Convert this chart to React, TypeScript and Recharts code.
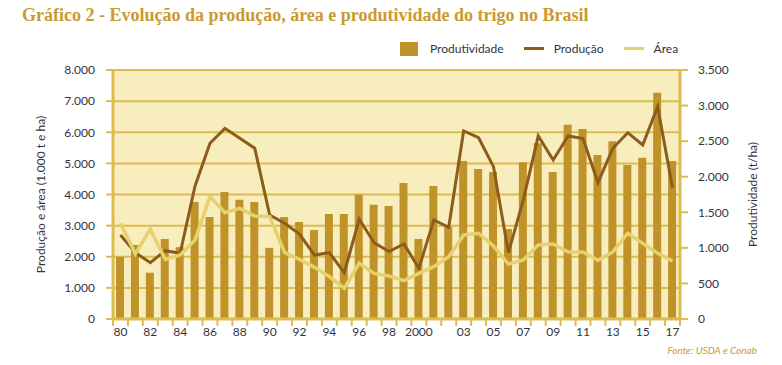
import React from "react";
import {
  ComposedChart,
  Bar,
  Line,
  XAxis,
  YAxis,
  CartesianGrid,
  Legend,
} from "recharts";

const years = [
  "1980", "1981", "1982", "1983", "1984", "1985", "1986", "1987", "1988", "1989",
  "1990", "1991", "1992", "1993", "1994", "1995", "1996", "1997", "1998", "1999",
  "2000", "2001", "2002", "2003", "2004", "2005", "2006", "2007", "2008", "2009",
  "2010", "2011", "2012", "2013", "2014", "2015", "2016", "2017",
];

const xLabels = [
  "80", "", "82", "", "84", "", "86", "", "88", "",
  "90", "", "92", "", "94", "", "96", "", "98", "",
  "2000", "", "", "03", "", "05", "", "07", "", "09",
  "", "11", "", "13", "", "15", "", "17",
];

// Produtividade (kg/ha shown as t/ha axis)
const produtividade = [
  875, 1040, 650, 1125, 1010, 1645, 1435, 1785, 1675, 1645,
  1000, 1435, 1365, 1250, 1475, 1475, 1745, 1605, 1590, 1910,
  1125, 1870, 1295, 2220, 2110, 2065, 1265, 2205, 2470, 2065,
  2730, 2670, 2305, 2500, 2165, 2265, 3180, 2220,
];

// Produção (1.000 t)
const producao = [
  2700, 2130, 1810, 2195, 2110, 4275, 5645, 6125, 5805, 5485,
  3340, 3075, 2730, 2055, 2130, 1490, 3205, 2450, 2165, 2410,
  1630, 3180, 2945, 6040, 5825, 4895, 2130, 3825, 5880, 5110,
  5880, 5795, 4380, 5485, 5985, 5590, 6820, 4220,
];

// Área (1.000 ha)
const area = [
  3075, 2090, 2890, 1915, 2055, 2540, 3930, 3415, 3555, 3310,
  3290, 2130, 1915, 1660, 1360, 985, 1790, 1465, 1380, 1230,
  1465, 1680, 2000, 2700, 2755, 2345, 1765, 1895, 2380, 2410,
  2155, 2155, 1885, 2155, 2755, 2430, 2110, 1865,
];

const leftTicks = [0, 1000, 2000, 3000, 4000, 5000, 6000, 7000, 8000];
const rightTicks = [0, 500, 1000, 1500, 2000, 2500, 3000, 3500];

const data = years.map((y, i) => ({
  year: y,
  label: xLabels[i],
  Produtividade: produtividade[i],
  "Produção": producao[i],
  "Área": area[i],
}));

const W = 782;
const H = 365;
const LEFT_W = 113;
const RIGHT_W = 102;
const TOP = 70;
const X_H = 46;
const PLOT_W = W - LEFT_W - RIGHT_W;

const GOLD = "#DEBB52";
const BAR = "#BF9329";
const BROWN = "#8D5C1D";
const LIGHT = "#E5D26F";
const BG = "#F8EDBC";
const TEXT = "#333340";
const FONT = "Lato, 'Open Sans', sans-serif";

const fmt = (v: number) =>
  v >= 1000 ? `${Math.floor(v / 1000)}.${String(v % 1000).padStart(3, "0")}` : String(v);

const XTick = (props: any) => {
  const { x, y, index } = props;
  const bw = PLOT_W / years.length;
  const lbl = xLabels[index] ?? "";
  const isLast = index === years.length - 1;
  return (
    <g>
      <line x1={x - bw / 2} x2={x - bw / 2} y1={y} y2={y + 7} stroke={GOLD} strokeWidth={2} />
      {isLast && (
        <line x1={x + bw / 2} x2={x + bw / 2} y1={y} y2={y + 7} stroke={GOLD} strokeWidth={2} />
      )}
      <text x={x} y={y + 17} textAnchor="middle" fontSize={12} fill={TEXT} fontFamily={FONT}>
        {lbl}
      </text>
    </g>
  );
};

const LegendContent = (props: any) => {
  const { payload } = props;
  return (
    <div style={{ display: "flex", alignItems: "center", fontFamily: FONT, fontSize: 12, color: TEXT }}>
      {payload.map((p: any, i: number) => (
        <div key={i} style={{ display: "flex", alignItems: "center", marginRight: 20 }}>
          {p.type === "rect" ? (
            <span style={{ display: "inline-block", width: 18, height: 14, background: p.color, marginRight: 12 }} />
          ) : (
            <span style={{ display: "inline-block", width: 20, height: 3, background: p.color, marginRight: 10 }} />
          )}
          <span>{p.value}</span>
        </div>
      ))}
    </div>
  );
};

export default function App() {
  return (
    <div style={{ position: "absolute", left: 0, top: 0, width: W, height: H, background: "#fff" }}>
      <div
        style={{
          position: "absolute",
          left: 22,
          top: 5,
          fontFamily: "'Liberation Serif', serif",
          fontWeight: 700,
          fontSize: 18,
          color: "#C99A30",
          whiteSpace: "nowrap",
        }}
      >
        Gráfico 2 - Evolução da produção, área e produtividade do trigo no Brasil
      </div>
      <ComposedChart
        width={W}
        height={H}
        data={data}
        margin={{ top: TOP, right: 0, bottom: 0, left: 0 }}
        barCategoryGap={0}
      >
        <CartesianGrid
          yAxisId="left"
          vertical={false}
          fill={BG}
          fillOpacity={1}
          stroke={GOLD}
          strokeWidth={2}
        />
        <XAxis
          dataKey="year"
          height={X_H}
          interval={0}
          tickLine={false}
          tickSize={0}
          tickMargin={0}
          axisLine={{ stroke: GOLD, strokeWidth: 3 }}
          tick={<XTick />}
        />
        <YAxis
          yAxisId="left"
          orientation="left"
          width={LEFT_W}
          domain={[0, 8000]}
          ticks={leftTicks}
          interval={0}
          tickFormatter={fmt}
          tickSize={7}
          tickMargin={11}
          axisLine={{ stroke: GOLD, strokeWidth: 3 }}
          tickLine={{ stroke: GOLD, strokeWidth: 2 }}
          tick={{ fontSize: 12, fill: TEXT, fontFamily: FONT }}
          label={(p: any) => {
            const vb = p.viewBox;
            const cx = vb.x + 40;
            const cy = vb.y + vb.height / 2;
            return (
              <text
                x={cx}
                y={cy}
                transform={`rotate(-90 ${cx} ${cy})`}
                textAnchor="middle"
                dominantBaseline="central"
                fontSize={12}
                fill={TEXT}
                fontFamily={FONT}
              >
                Produção e área (1.000 t e ha)
              </text>
            );
          }}
        />
        <YAxis
          yAxisId="right"
          orientation="right"
          width={RIGHT_W}
          domain={[0, 3500]}
          ticks={rightTicks}
          interval={0}
          tickFormatter={fmt}
          tickSize={8}
          tickMargin={10}
          axisLine={{ stroke: GOLD, strokeWidth: 3 }}
          tickLine={{ stroke: GOLD, strokeWidth: 2 }}
          tick={{ fontSize: 12, fill: TEXT, fontFamily: FONT }}
          label={(p: any) => {
            const vb = p.viewBox;
            const cx = vb.x + 72;
            const cy = vb.y + vb.height / 2;
            return (
              <text
                x={cx}
                y={cy}
                transform={`rotate(-90 ${cx} ${cy})`}
                textAnchor="middle"
                dominantBaseline="central"
                fontSize={12}
                fill={TEXT}
                fontFamily={FONT}
              >
                Produtividade (t/ha)
              </text>
            );
          }}
        />
        <Legend
          layout="horizontal"
          verticalAlign="middle"
          align="center"
          content={<LegendContent />}
          wrapperStyle={{ position: "absolute", top: 41, left: 400, width: "auto" }}
        />
        <Bar
          yAxisId="right"
          dataKey="Produtividade"
          fill={BAR}
          barSize={8}
          isAnimationActive={false}
          legendType="rect"
        />
        <Line
          yAxisId="left"
          type="linear"
          dataKey="Produção"
          stroke={BROWN}
          strokeWidth={3}
          dot={false}
          isAnimationActive={false}
          legendType="line"
        />
        <Line
          yAxisId="left"
          type="linear"
          dataKey="Área"
          stroke={LIGHT}
          strokeWidth={3.5}
          dot={false}
          isAnimationActive={false}
          legendType="line"
        />
      </ComposedChart>
      <div
        style={{
          position: "absolute",
          right: 25,
          top: 344,
          fontFamily: FONT,
          fontStyle: "italic",
          fontSize: 10,
          color: "#C99A30",
          whiteSpace: "nowrap",
        }}
      >
        Fonte: USDA e Conab
      </div>
    </div>
  );
}
